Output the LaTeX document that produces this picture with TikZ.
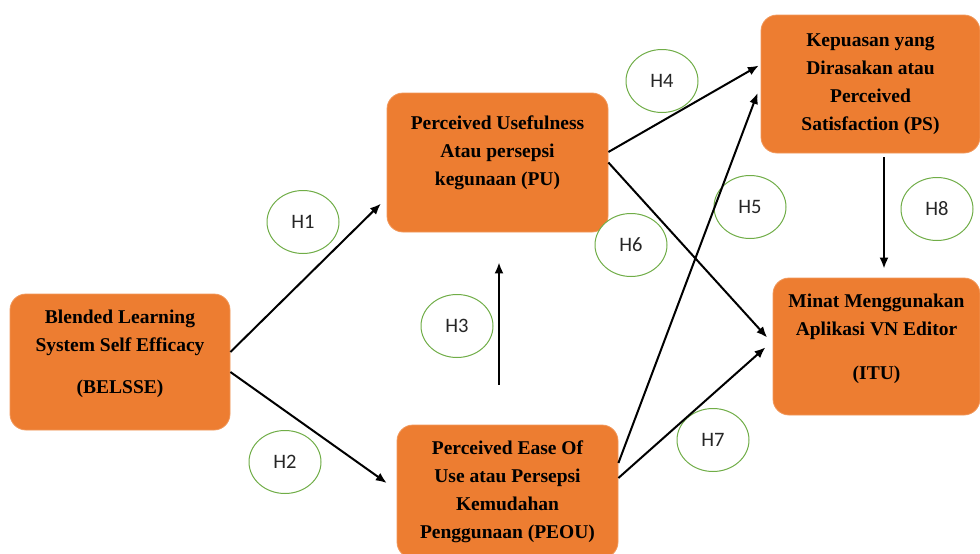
\documentclass[tikz,border=0pt]{standalone}
\usepackage{fontspec}
\setmainfont{Liberation Serif}
\newfontfamily\hypfont{Carlito}
\usetikzlibrary{arrows.meta,shapes.geometric}
\definecolor{boxorange}{HTML}{ED7D31}
\definecolor{hypgreen}{HTML}{70AD47}

\begin{document}
\begin{tikzpicture}[
  x=1pt, y=-1pt,
  >={Latex[length=11pt,width=9pt]},
  construct/.style={draw=boxorange!80!white, line width=0.8pt, fill=boxorange, rounded corners=16pt, align=center, inner sep=0pt, font=\bfseries\fontsize{19.5}{28}\selectfont},
  hyp/.style={ellipse, draw=hypgreen, line width=1pt, fill=white, minimum width=72pt, minimum height=63pt, inner sep=0pt, font=\hypfont\fontsize{20.5}{22}\selectfont, text=black!85},
  rel/.style={->, line width=2pt}
]
\useasboundingbox (0,0) rectangle (980,554);

% constructs
\node[construct, minimum width=220pt, minimum height=136pt, text depth=21pt] (belsse) at (120,362) {Blended Learning\\System Self Efficacy\\[14pt](BELSSE)};
\node[construct, minimum width=221pt, minimum height=139pt, text depth=24pt] (pu) at (497.5,162.5) {Perceived Usefulness\\Atau persepsi\\kegunaan (PU)};
\node[construct, minimum width=221pt, minimum height=133pt] (peou) at (507.5,491.5) {Perceived Ease Of\\Use atau Persepsi\\Kemudahan\\Penggunaan (PEOU)};
\node[construct, minimum width=219pt, minimum height=138pt] (ps) at (870.5,84) {Kepuasan yang\\Dirasakan atau\\Perceived\\Satisfaction (PS)};
\node[construct, minimum width=207pt, minimum height=137pt, text depth=19pt] (itu) at (876.5,346.5) {Minat Menggunakan\\Aplikasi VN Editor\\[16pt](ITU)};

% hypotheses
\foreach \n/\x/\y in {1/303/222, 2/285/462, 3/457/326, 4/662/81, 5/750/207, 6/631/245, 7/713/440, 8/937/209}
  \node[hyp] (h\n) at (\x,\y) {H\n};

% paths
\draw[rel, shorten >=8pt] ([yshift=10pt]belsse.east) -- ([yshift=-35.5pt]pu.west);
\draw[rel, shorten >=12pt] ([yshift=-10pt]belsse.east) -- ([yshift=1.5pt]peou.west);
\draw[rel, shorten <=40pt, shorten >=30pt] ([xshift=1.5pt]pu.south |- peou.north) -- ([xshift=1.5pt]pu.south);
\draw[rel, shorten >=2pt] ([yshift=10.5pt]pu.east) -- ([yshift=19.5pt]ps.west);
\draw[rel, shorten >=8pt] (pu.east) -- ([yshift=3pt]itu.west);
\draw[rel, shorten >=8.5pt] ([yshift=28.5pt]peou.east) -- ([yshift=-1pt]ps.west);
\draw[rel, shorten >=9.5pt] ([yshift=13.5pt]peou.east) -- ([yshift=5.5pt]itu.west);
\draw[rel, shorten <=4pt, shorten >=9pt] ([xshift=13.5pt]ps.south) -- ([xshift=13.5pt]ps.south |- itu.north);
\end{tikzpicture}
\end{document}
